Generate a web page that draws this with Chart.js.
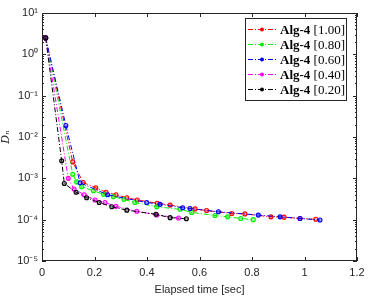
<!DOCTYPE html>
<html>
<head>
<meta charset="utf-8">
<script src="https://cdn.jsdelivr.net/npm/chart.js@4/dist/chart.umd.min.js"></script>
<style>
  body { margin: 0; background: #fff; }
  canvas { display: block; }
</style>
</head>
<body>
<canvas id="grafico" width="370" height="297"></canvas>
<script>
// etiquetas de la leyenda
const nombres = ['Alg-4', 'Alg-4', 'Alg-4', 'Alg-4', 'Alg-4'];
const factores = ['[1.00]', '[0.80]', '[0.60]', '[0.40]', '[0.20]'];
const colores = ['#ff0000', '#00ee00', '#0000ff', '#ff00ff', '#000000'];

// tiempo [sec] y D_n de cada serie
const tiempoRojo = [0.014, 0.117, 0.157, 0.205, 0.244, 0.282, 0.323, 0.363, 0.439, 0.488, 0.583, 0.627, 0.723, 0.773, 0.872, 0.922, 0.983, 1.043];
const dnRojo = [2.5, 2.5e-3, 7.9e-4, 5.9e-4, 4.6e-4, 4.0e-4, 3.4e-4, 3.0e-4, 2.5e-4, 2.25e-4, 1.82e-4, 1.66e-4, 1.41e-4, 1.38e-4, 1.17e-4, 1.15e-4, 1.07e-4, 1.02e-4];

const tiempoVerde = [0.014, 0.117, 0.132, 0.151, 0.196, 0.234, 0.272, 0.312, 0.354, 0.437, 0.526, 0.570, 0.659, 0.707, 0.757, 0.805];
const dnVerde = [2.5, 1.26e-3, 8.2e-4, 6.3e-4, 5.0e-4, 4.1e-4, 3.6e-4, 3.1e-4, 2.6e-4, 2.05e-4, 1.78e-4, 1.5e-4, 1.26e-4, 1.17e-4, 1.07e-4, 1.0e-4];

const tiempoAzul = [0.014, 0.091, 0.145, 0.25, 0.399, 0.45, 0.536, 0.564, 0.672, 0.824, 0.907, 0.983, 1.059];
const dnAzul = [2.5, 1.9e-2, 7.8e-4, 4.0e-4, 2.6e-4, 2.35e-4, 1.95e-4, 1.86e-4, 1.55e-4, 1.29e-4, 1.17e-4, 1.07e-4, 9.8e-5];

const tiempoMagenta = [0.014, 0.1, 0.122, 0.161, 0.202, 0.24, 0.282, 0.361, 0.437, 0.52];
const dnMagenta = [2.5, 1.0e-3, 5.5e-4, 4.0e-4, 3.0e-4, 2.6e-4, 2.1e-4, 1.6e-4, 1.3e-4, 1.1e-4];

const tiempoNegro = [0.014, 0.075, 0.085, 0.13, 0.17, 0.218, 0.266, 0.323, 0.434, 0.488, 0.55];
const dnNegro = [2.5, 2.65e-3, 7.5e-4, 4.6e-4, 3.4e-4, 2.6e-4, 2.05e-4, 1.7e-4, 1.35e-4, 1.12e-4, 1.05e-4];

// ticks
const ticksX = [0, 0.2, 0.4, 0.6, 0.8, 1, 1.2];
const ticksY = [1e-5, 1e-4, 1e-3, 1e-2, 1e-1, 1, 10];
const etiquetasY = ['10⁻⁵', '10⁻⁴', '10⁻³', '10⁻²', '10⁻¹', '10⁰', '10¹'];

const series = [
    [tiempoRojo, dnRojo],
    [tiempoVerde, dnVerde],
    [tiempoAzul, dnAzul],
    [tiempoMagenta, dnMagenta],
    [tiempoNegro, dnNegro]
];

function claro(hex) {
    return hex + '55';
}

const datasets = series.map(([t, d], i) => ({
    label: nombres[i] + ' ' + factores[i],
    data: t.map((x, k) => ({ x: x, y: d[k] })),
    borderColor: colores[i],
    backgroundColor: colores[i],
    pointBackgroundColor: claro(colores[i]),
    pointBorderColor: colores[i],
    pointRadius: 2,
    pointBorderWidth: 1.1,
    borderWidth: 1,
    borderDash: [5, 2, 1, 2],
    tension: 0,
    order: 4 - i
}));

// marco con ticks hacia adentro
const marco = {
    id: 'marco',
    afterDraw(chart) {
        const { ctx, chartArea: a, scales: { x, y } } = chart;
        ctx.save();
        ctx.strokeStyle = '#262626';
        ctx.lineWidth = 1;
        ctx.strokeRect(a.left + 0.5, a.top + 0.5, a.width - 1, a.height - 1);
        ctx.beginPath();
        ticksX.forEach(v => {
            const px = Math.round(x.getPixelForValue(v)) + 0.5;
            ctx.moveTo(px, a.bottom); ctx.lineTo(px, a.bottom - 4);
            ctx.moveTo(px, a.top); ctx.lineTo(px, a.top + 4);
        });
        for (let e = -5; e <= 1; e++) {
            for (let m = 1; m < 10; m++) {
                const v = m * Math.pow(10, e);
                if (v > 10) break;
                const py = Math.round(y.getPixelForValue(v)) + 0.5;
                const largo = m === 1 ? 4 : 2;
                ctx.moveTo(a.left, py); ctx.lineTo(a.left + largo, py);
                ctx.moveTo(a.right, py); ctx.lineTo(a.right - largo, py);
            }
        }
        ctx.stroke();
        ctx.restore();
    }
};

// leyenda con parte en negrita
const leyenda = {
    id: 'leyenda',
    afterDraw(chart) {
        const ctx = chart.ctx;
        const x0 = 245, y0 = 18, w = 101, h = 82;
        ctx.save();
        ctx.fillStyle = '#fff';
        ctx.fillRect(x0, y0, w, h);
        ctx.strokeStyle = '#262626';
        ctx.lineWidth = 1;
        ctx.strokeRect(x0 + 0.5, y0 + 0.5, w, h);
        chart.data.datasets.forEach((ds, i) => {
            const cy = 29.5 + i * 15;
            ctx.strokeStyle = ds.borderColor;
            ctx.setLineDash(ds.borderDash);
            ctx.beginPath();
            ctx.moveTo(248, cy); ctx.lineTo(276, cy);
            ctx.stroke();
            ctx.setLineDash([]);
            ctx.fillStyle = ds.borderColor;
            ctx.beginPath();
            ctx.arc(262, cy, 2, 0, Math.PI * 2);
            ctx.fill();
            ctx.fillStyle = '#000';
            ctx.textBaseline = 'middle';
            ctx.font = 'bold 13px "Liberation Serif"';
            ctx.fillText(nombres[i], 280, cy + 1);
            const ancho = ctx.measureText(nombres[i] + ' ').width;
            ctx.font = '13px "Liberation Serif"';
            ctx.fillText(factores[i], 280 + ancho, cy + 1);
        });
        ctx.restore();
    }
};

new Chart(document.getElementById('grafico'), {
    type: 'line',
    data: { datasets: datasets },
    options: {
        responsive: false,
        animation: false,
        devicePixelRatio: 1,
        layout: { padding: { left: 0, right: 13, top: 13, bottom: 0 } },
        plugins: { legend: { display: false }, tooltip: { enabled: false } },
        scales: {
            x: {
                type: 'linear',
                min: 0,
                max: 1.2,
                afterBuildTicks: s => { s.ticks = ticksX.map(v => ({ value: v })); },
                afterFit: s => { s.height = 36; },
                grid: { display: false, drawTicks: false },
                border: { display: false },
                ticks: {
                    color: '#262626',
                    padding: 5,
                    maxRotation: 0,
                    font: { family: 'Liberation Sans', size: 11 },
                    callback: v => String(v)
                },
                title: {
                    display: true,
                    text: 'Elapsed time [sec]',
                    color: '#262626',
                    padding: 0,
                    font: { family: 'Liberation Sans', size: 11 }
                }
            },
            y: {
                type: 'logarithmic',
                min: 1e-5,
                max: 10,
                afterBuildTicks: s => { s.ticks = ticksY.map(v => ({ value: v })); },
                afterFit: s => { s.width = 42; },
                grid: { display: false, drawTicks: false },
                border: { display: false },
                ticks: {
                    color: '#262626',
                    padding: 4,
                    font: { family: 'Liberation Sans', size: 11 },
                    callback: v => etiquetasY[ticksY.indexOf(v)] || ''
                },
                title: {
                    display: true,
                    text: 'Dₙ',
                    color: '#262626',
                    padding: 0,
                    font: { family: 'DejaVu Serif', style: 'italic', size: 11 }
                }
            }
        }
    },
    plugins: [marco, leyenda]
});
</script>
</body>
</html>
